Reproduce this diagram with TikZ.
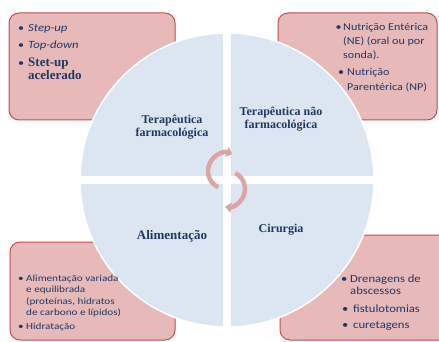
\documentclass[tikz,border=0pt]{standalone}
\usepackage{fontspec}
\setmainfont{Liberation Serif}
\newfontfamily\calfont[FakeStretch=1.15]{Carlito}
\newfontfamily\calwide[FakeStretch=1.2]{Carlito}
\usetikzlibrary{arrows.meta}
\definecolor{navy}{HTML}{1F3864}
\definecolor{boxfill}{HTML}{E7BAB9}
\definecolor{boxline}{HTML}{C0504D}
\definecolor{circfill}{HTML}{DCE6F2}
\definecolor{cyccol}{HTML}{DCA4A2}
\begin{document}
\begin{tikzpicture}[x=1pt,y=-1pt,
  box/.style={draw=boxline, fill=boxfill, rounded corners=10pt, line width=1pt},
  txt/.style={anchor=base west, inner sep=0pt, text=navy},
  lab/.style={anchor=base, inner sep=0pt, text=navy, font=\bfseries\fontsize{12}{12.5}\selectfont},
  fa/.style={font=\calfont\fontsize{10.5}{12}\selectfont},
  fi/.style={font=\calfont\itshape\fontsize{11}{12}\selectfont},
  fb/.style={font=\bfseries\fontsize{13}{13}\selectfont},
  fs/.style={font=\calwide\fontsize{9.3}{11}\selectfont},
  fm/.style={font=\calfont\fontsize{11}{12}\selectfont},
  cyc/.style={draw=cyccol, line width=4.5pt, -{Triangle[width=10pt,length=6pt]}}]
\useasboundingbox (0,0) rectangle (439,342);
\fill[white] (0,0) rectangle (439,342);
% boxes
\draw[box] (9,13) rectangle (175,120);
\draw[box] (278,13) rectangle (437,120);
\draw[box] (10,242) rectangle (175,340);
\draw[box] (280,235) rectangle (450,340);
% circle
\fill[circfill, draw=white, line width=1.5pt] (227,180) circle[radius=147];
\draw[white, line width=8pt] (227,32) -- (227,328);
\draw[white, line width=7.5pt] (79,180) -- (375,180);
% cycle arrows
\draw[cyc] (226,171) ++(115:18) arc[start angle=115, end angle=291, radius=18];
\draw[cyc] (227,189) ++(-62:18) arc[start angle=-62, end angle=96, radius=18];
% top-left
\node[txt, fa] (b1) at (18,32) {•};
\node[txt, fi] (t1) at (28,32) {Step-up};
\node[txt, fa] (b2) at (18,49) {•};
\node[txt, fi] (t2) at (28,49) {Top-down};
\node[txt, fa] (b3) at (18,67) {•};
\node[txt, fb] (t3a) at (28,67) {Stet-up};
\node[txt, fb] (t3b) at (28,79.5) {acelerado};
% top-right
\node[txt, fa] (b4) at (335.5,30.5) {•};
\node[txt, fa] (t4a) at (343,30.5) {Nutrição Entérica};
\node[txt, fa] (t4b) at (343,44.5) {(NE) (oral ou por};
\node[txt, fa] (t4c) at (343,58.5) {sonda).};
\node[txt, fa] (b5) at (338,76) {•};
\node[txt, fa] (t5a) at (347,76) {Nutrição};
\node[txt, fa] (t5b) at (347,90.5) {Parentérica (NP)};
% bottom-left
\node[txt, fs] (b6) at (18,281) {•};
\node[txt, fs] (t6a) at (26,281) {Alimentação variada};
\node[txt, fs] (t6b) at (26,292.5) {e equilibrada};
\node[txt, fs] (t6c) at (26,304) {(proteínas, hidratos};
\node[txt, fs] (t6d) at (26,315.5) {de carbono e lípidos)};
\node[txt, fs] (b7) at (18,329) {•};
\node[txt, fs] (t7) at (26,329) {Hidratação};
% bottom-right
\node[txt, fm] (b8) at (341,282) {•};
\node[txt, fm] (t8a) at (350,282) {Drenagens de};
\node[txt, fm] (t8b) at (350,294) {abscessos};
\node[txt, fm] (b9) at (342,312) {•};
\node[txt, fm] (t9) at (353,312) {fistulotomias};
\node[txt, fm] (b10) at (342,328) {•};
\node[txt, fm] (t10) at (353,328) {curetagens};
% circle labels
\node[lab] (q1a) at (172,123.5) {Terapêutica};
\node[lab] (q1b) at (172,136) {farmacológica};
\node[lab] (q2a) at (281,116) {Terapêutica não};
\node[lab] (q2b) at (281,129) {farmacológica};
\node[lab, font=\bfseries\fontsize{13}{13}\selectfont] (q3) at (172,239) {Alimentação};
\node[lab] (q4) at (281,232.5) {Cirurgia};
\end{tikzpicture}
\end{document}
